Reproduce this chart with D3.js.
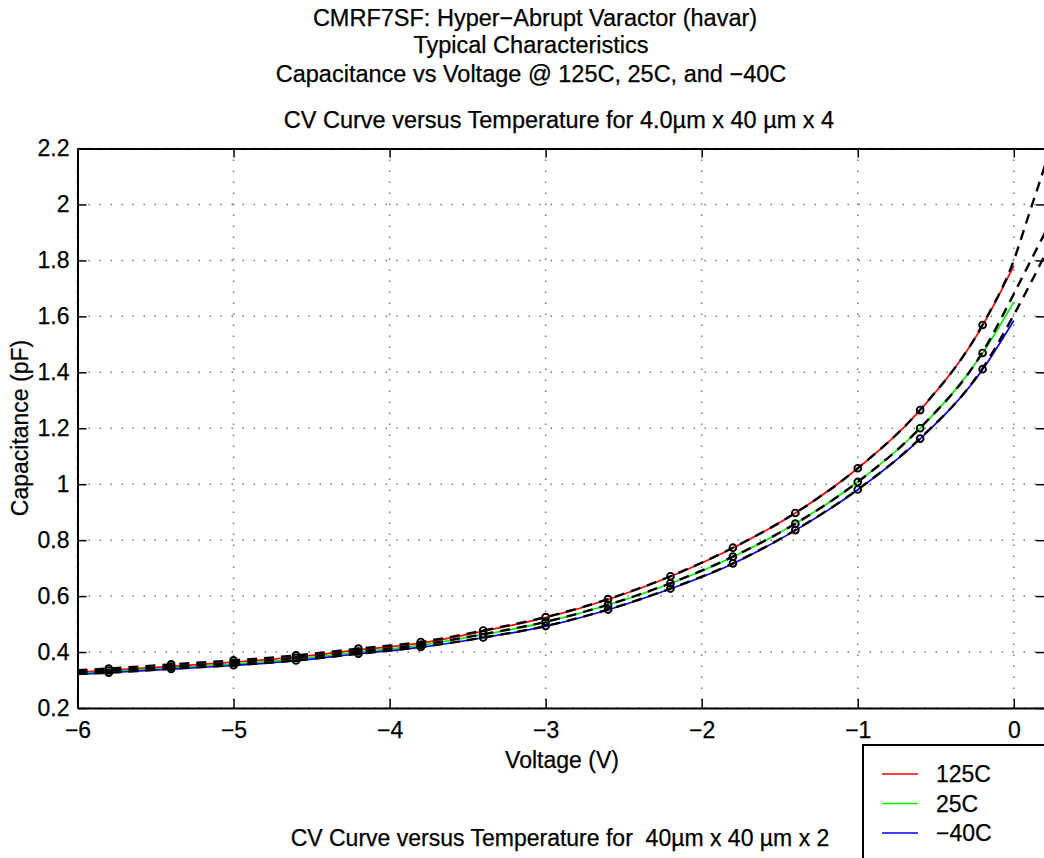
<!DOCTYPE html>
<html>
<head>
<meta charset="utf-8">
<script src="https://cdn.jsdelivr.net/npm/d3@7"></script>
<style>
  body { margin: 0; background: #fff; }
  text { font-family: "Liberation Sans", Arial, Helvetica, sans-serif; fill: #000; stroke: #000; stroke-width: 0.25px; }
</style>
</head>
<body>
<div id="chart"></div>
<script>
// tick values
const xTicks = [-6, -5, -4, -3, -2, -1, 0];
const xTickLabels = ["\u22126", "\u22125", "\u22124", "\u22123", "\u22122", "\u22121", "0"];
const yTicks = [0.2, 0.4, 0.6, 0.8, 1.0, 1.2, 1.4, 1.6, 1.8, 2.0, 2.2];
const yTickLabels = ["0.2", "0.4", "0.6", "0.8", "1", "1.2", "1.4", "1.6", "1.8", "2", "2.2"];

// temperatures
const temps = ["125C", "25C", "\u221240C"];
const tempColors = ["#ff0000", "#00f000", "#0000ff"];

// solid curves (measured), voltage grid
const vSolid = [-6, -5.8, -5.4, -5.0, -4.6, -4.2, -3.8, -3.4, -3.0, -2.6, -2.2, -1.8, -1.4, -1.0, -0.6, -0.2, 0];
const c125 = [0.328, 0.335, 0.349, 0.364, 0.382, 0.408, 0.432, 0.475, 0.523, 0.588, 0.670, 0.772, 0.897, 1.057, 1.265, 1.567, 1.781];
const c25  = [0.323, 0.330, 0.343, 0.357, 0.375, 0.400, 0.424, 0.462, 0.507, 0.568, 0.645, 0.740, 0.859, 1.008, 1.200, 1.468, 1.652];
const cM40 = [0.320, 0.326, 0.339, 0.352, 0.369, 0.394, 0.417, 0.451, 0.492, 0.551, 0.626, 0.716, 0.835, 0.980, 1.162, 1.410, 1.585];

// circle markers
const vMark = [-5.8, -5.4, -5.0, -4.6, -4.2, -3.8, -3.4, -3.0, -2.6, -2.2, -1.8, -1.4, -1.0, -0.6, -0.2];
const m125 = [0.341, 0.356, 0.370, 0.388, 0.412, 0.436, 0.477, 0.525, 0.589, 0.671, 0.773, 0.897, 1.057, 1.265, 1.569];
const m25  = [0.334, 0.348, 0.361, 0.379, 0.402, 0.426, 0.464, 0.508, 0.569, 0.646, 0.741, 0.859, 1.008, 1.200, 1.469];
const mM40 = [0.326, 0.340, 0.353, 0.370, 0.394, 0.418, 0.452, 0.493, 0.552, 0.627, 0.717, 0.836, 0.981, 1.163, 1.411];

// dashed model curves
const vModel = [-6, -5.8, -5.4, -5.0, -4.6, -4.2, -3.8, -3.4, -3.0, -2.6, -2.2, -1.8, -1.4, -1.0, -0.6, -0.2, 0, 0.1, 0.2, 0.3];
const d125 = [0.335, 0.341, 0.356, 0.370, 0.388, 0.412, 0.436, 0.477, 0.525, 0.589, 0.671, 0.773, 0.897, 1.057, 1.266, 1.570, 1.800, 1.970, 2.140, 2.330];
const d25  = [0.329, 0.334, 0.348, 0.361, 0.379, 0.402, 0.426, 0.464, 0.508, 0.569, 0.646, 0.741, 0.859, 1.008, 1.201, 1.472, 1.680, 1.790, 1.900, 2.020];
const dM40 = [0.322, 0.326, 0.340, 0.353, 0.370, 0.394, 0.418, 0.452, 0.493, 0.552, 0.627, 0.717, 0.836, 0.981, 1.164, 1.414, 1.605, 1.710, 1.820, 1.930];

const solids = [c125, c25, cM40];
const marks = [m125, m25, mM40];
const models = [d125, d25, dM40];

const W = 1044, H = 858;
const plot = {left: 77.5, right: 1045, top: 148.5, bottom: 708};

const svg = d3.select("#chart").append("svg")
    .attr("width", W)
    .attr("height", H);

const x = d3.scaleLinear().domain([-6, 0.2]).range([plot.left, plot.right]);
const y = d3.scaleLinear().domain([0.2, 2.2]).range([plot.bottom, plot.top]);

// titles
const titles = [
    {t: "CMRF7SF: Hyper\u2212Abrupt Varactor (havar)", x: 535, y: 26},
    {t: "Typical Characteristics", x: 531, y: 53},
    {t: "Capacitance vs Voltage @ 125C, 25C, and \u221240C", x: 531, y: 82},
    {t: "CV Curve versus Temperature for 4.0\u00b5m x 40 \u00b5m x 4", x: 559, y: 128}
];
svg.selectAll(".title")
    .data(titles)
    .join("text")
    .attr("class", "title")
    .attr("x", d => d.x)
    .attr("y", d => d.y)
    .attr("text-anchor", "middle")
    .style("font-size", "23.5px")
    .text(d => d.t);

// grid
const grid = svg.append("g");
grid.selectAll(".gx")
    .data(xTicks)
    .join("line")
    .attr("x1", d => x(d)).attr("x2", d => x(d))
    .attr("y1", plot.top).attr("y2", plot.bottom)
    .attr("stroke", "#777").attr("stroke-width", 1.5)
    .attr("stroke-dasharray", "1.5,9.5");
grid.selectAll(".gy")
    .data(yTicks)
    .join("line")
    .attr("x1", plot.left).attr("x2", plot.right)
    .attr("y1", d => y(d)).attr("y2", d => y(d))
    .attr("stroke", "#777").attr("stroke-width", 1.5)
    .attr("stroke-dasharray", "1.5,9.5");

// clip
svg.append("clipPath").attr("id", "clip")
    .append("rect")
    .attr("x", plot.left).attr("y", plot.top)
    .attr("width", plot.right - plot.left).attr("height", plot.bottom - plot.top);

const data = svg.append("g").attr("clip-path", "url(#clip)");

const line = d3.line()
    .x(d => x(d[0]))
    .y(d => y(d[1]))
    .curve(d3.curveMonotoneX);

// colored measured curves
solids.forEach((vals, i) => {
    data.append("path")
        .datum(vSolid.map((v, j) => [v, vals[j]]))
        .attr("fill", "none")
        .attr("stroke", tempColors[i])
        .attr("stroke-width", 1.7)
        .attr("d", line);
});

// dashed model curves
models.forEach(vals => {
    data.append("path")
        .datum(vModel.map((v, j) => [v, vals[j]]))
        .attr("fill", "none")
        .attr("stroke", "#000")
        .attr("stroke-width", 2.4)
        .attr("stroke-dasharray", "10,7")
        .attr("d", line);
});

// markers
marks.forEach(vals => {
    data.selectAll(null)
        .data(vMark.map((v, j) => [v, vals[j]]))
        .join("circle")
        .attr("cx", d => x(d[0]))
        .attr("cy", d => y(d[1]))
        .attr("r", 3.4)
        .attr("fill", "none")
        .attr("stroke", "#000")
        .attr("stroke-width", 1.9);
});

// axes (box with inward ticks)
const axisStyle = g => {
    g.select(".domain").attr("stroke", "#000").attr("stroke-width", 2);
    g.selectAll(".tick line").attr("stroke", "#000").attr("stroke-width", 1.5);
};

svg.append("g")
    .attr("transform", `translate(0,${plot.bottom})`)
    .call(d3.axisBottom(x).tickValues(xTicks).tickSizeInner(-9).tickSizeOuter(0).tickPadding(14)
        .tickFormat((d, i) => xTickLabels[i]))
    .call(axisStyle)
    .call(g => g.selectAll("text").style("font-size", "23px").attr("fill", "#000"));

svg.append("g")
    .attr("transform", `translate(0,${plot.top})`)
    .call(d3.axisTop(x).tickValues(xTicks).tickSizeInner(-9).tickSizeOuter(0).tickFormat(""))
    .call(axisStyle);

svg.append("g")
    .attr("transform", `translate(${plot.left},0)`)
    .call(d3.axisLeft(y).tickValues(yTicks).tickSizeInner(-9).tickSizeOuter(0).tickPadding(8)
        .tickFormat((d, i) => yTickLabels[i]))
    .call(axisStyle)
    .call(g => g.selectAll("text").style("font-size", "23px").attr("fill", "#000"));

svg.append("g")
    .attr("transform", `translate(${plot.right},0)`)
    .call(d3.axisRight(y).tickValues(yTicks).tickSizeInner(-9).tickSizeOuter(0).tickFormat(""))
    .call(axisStyle);

// axis labels
svg.append("text")
    .attr("x", 562).attr("y", 768)
    .attr("text-anchor", "middle")
    .style("font-size", "23px")
    .text("Voltage (V)");

svg.append("text")
    .attr("transform", "translate(28,428) rotate(-90)")
    .attr("text-anchor", "middle")
    .style("font-size", "23px")
    .text("Capacitance (pF)");

// second subplot title
svg.append("text")
    .attr("x", 560).attr("y", 846)
    .attr("text-anchor", "middle")
    .style("font-size", "23px")
    .style("white-space", "pre")
    .text("CV Curve versus Temperature for  40\u00b5m x 40 \u00b5m x 2");

// legend
const legend = svg.append("g").attr("transform", "translate(863,745)");
legend.append("rect")
    .attr("width", 300).attr("height", 200)
    .attr("fill", "#fff")
    .attr("stroke", "#000")
    .attr("stroke-width", 2);

const item = legend.selectAll(".item")
    .data(temps)
    .join("g")
    .attr("class", "item")
    .attr("transform", (d, i) => `translate(0,${29 + i * 29.5})`);

item.append("line")
    .attr("x1", 19).attr("x2", 55)
    .attr("stroke", (d, i) => tempColors[i])
    .attr("stroke-width", 1.7);

item.append("text")
    .attr("x", 73).attr("y", 8)
    .style("font-size", "23px")
    .text(d => d);
</script>
</body>
</html>
